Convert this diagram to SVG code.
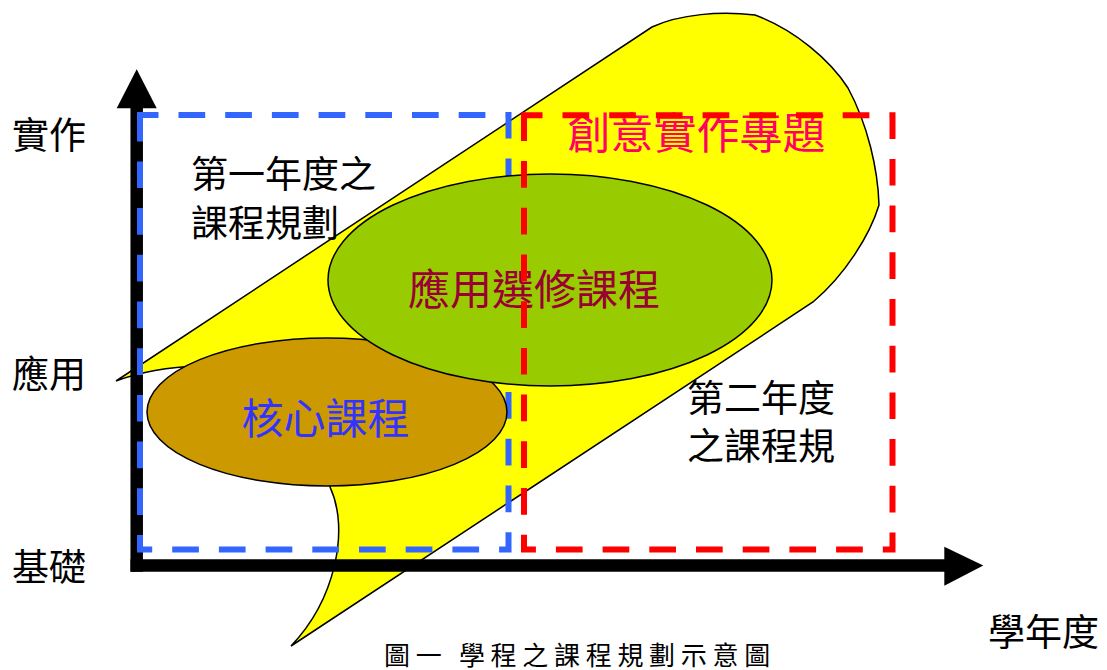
<svg xmlns="http://www.w3.org/2000/svg" width="1107" height="670" viewBox="0 0 1107 670">
<style>
.t{font-family:"Noto Sans CJK TC","Noto Sans CJK SC",sans-serif;}
.blk{fill:#000;font-size:37px;}
.ax{stroke:#000;stroke-width:12.5;fill:none;}
.dash{fill:none;stroke-width:6;stroke-dasharray:26.7 20;stroke-dashoffset:8.2;}
.shape{stroke:#000;stroke-width:1.5;}
</style>
<rect width="1107" height="670" fill="#fff"/>
<g id="yellow-region">
<path class="shape" fill="#FFFF00" d="M116,381 L652,27 C680,14 720,11 755,15 C795,30 830,60 848,88 C868,125 878,170 879,205 C870,235 845,275 813,302 L291,646 C335,600 350,530 330,487 L330,420 L200,366 C170,367 140,372 116,381 Z"/>
</g>
<g id="axes">
<line class="ax" x1="136.7" y1="571.7" x2="136.7" y2="106"/>
<polygon points="136.7,69.3 116.7,108.3 156.7,108.3" fill="#000"/>
<line class="ax" x1="130.5" y1="565.6" x2="946" y2="565.6"/>
<polygon points="983.3,565.6 944.3,546.7 944.3,585.7" fill="#000"/>
</g>
<g id="year1-box">
<rect class="dash" x="140" y="115" width="368.5" height="434.5" stroke="#3366FF"/>
</g>
<g id="core">
<ellipse class="shape" cx="327" cy="412" rx="180" ry="74" fill="#CC9900"/>
<text class="t" x="241.5" y="434.3" font-size="42" fill="#3333FF">核心課程</text>
</g>
<g id="elective">
<ellipse class="shape" cx="550" cy="280" rx="222" ry="106" fill="#99CC00"/>
<text class="t" x="408" y="305" font-size="42" fill="#990033">應用選修課程</text>
</g>
<g id="project-title">
<text class="t" x="567.5" y="149.3" font-size="43" fill="#FF0066">創意實作專題</text>
</g>
<g id="year2-box">
<rect class="dash" x="524" y="115.3" width="368.5" height="434.2" stroke="#FF0000"/>
</g>
<g id="labels">
<text class="t blk" x="12" y="148.5">實作</text>
<text class="t blk" x="12" y="388">應用</text>
<text class="t blk" x="12" y="581">基礎</text>
<text class="t blk" x="988" y="645.7">學年度</text>
<text class="t blk"><tspan x="191" y="188.3">第一年度之</tspan><tspan x="191" y="237.4">課程規劃</tspan></text>
<text class="t blk"><tspan x="687" y="412">第二年度</tspan><tspan x="687" y="460">之課程規</tspan></text>
<text class="t" x="384" y="665" font-size="26" letter-spacing="5.7" fill="#000">圖一 學程之課程規劃示意圖</text>
</g>
</svg>
